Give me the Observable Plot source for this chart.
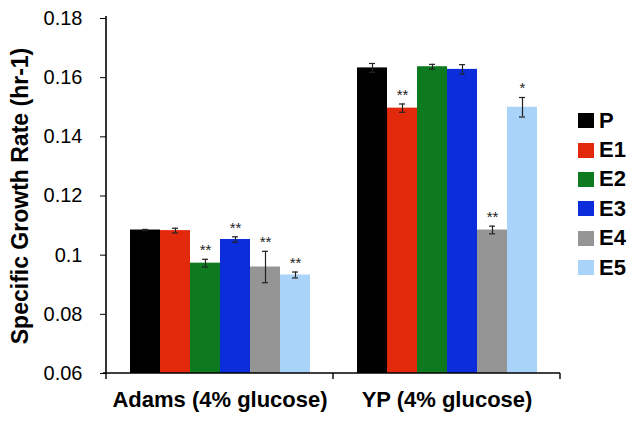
<!DOCTYPE html>
<html><head><meta charset="utf-8">
<script src="https://cdn.jsdelivr.net/npm/d3@7"></script>
<script src="https://cdn.jsdelivr.net/npm/@observablehq/plot@0.6"></script>
<style>
body{margin:0;background:#fff;font-family:"Liberation Sans",Arial,sans-serif;}
#wrap{position:relative;width:630px;height:421px;}
#legend{position:absolute;left:578px;top:106px;}
.item{display:flex;align-items:center;height:29.4px;font-weight:bold;font-size:22px;color:#000;}
.sw{width:16px;height:15px;margin-right:5px;}
</style></head><body><div id="wrap"></div>
<script>
const groups = ["Adams (4% glucose)", "YP (4% glucose)"];
const series = ["P", "E1", "E2", "E3", "E4", "E5"];
const colors = ["#000000", "#e3290c", "#0e7a1f", "#0b2ddb", "#959595", "#a9d3f9"];
const adamsValues = [0.1085, 0.1083, 0.0973, 0.1053, 0.0960, 0.0933];
const adamsErrors = [0.0002, 0.0008, 0.0013, 0.0009, 0.0053, 0.0010];
const ypValues = [0.1633, 0.1497, 0.1637, 0.1628, 0.1085, 0.1500];
const ypErrors = [0.0015, 0.0014, 0.0008, 0.0016, 0.0013, 0.0033];
const adamsStars = ["", "", "**", "**", "**", "**"];
const ypStars = ["", "**", "", "", "**", "*"];
const yTicks = [0.06, 0.08, 0.1, 0.12, 0.14, 0.16, 0.18];
const yDomain = [0.06, 0.18];
const yLabel = "Specific Growth Rate (hr-1)";

const values = [adamsValues, ypValues];
const errors = [adamsErrors, ypErrors];
const stars = [adamsStars, ypStars];
const data = [];
groups.forEach((g, gi) => series.forEach((s, i) => data.push({
  group: g, series: s, value: values[gi][i], err: errors[gi][i], star: stars[gi][i]
})));

const plot = Plot.plot({
  width: 630, height: 421,
  marginLeft: 106, marginRight: 70, marginTop: 18, marginBottom: 48,
  fx: {domain: groups, paddingInner: 0, paddingOuter: 0, label: null, axis: null},
  x: {domain: series, paddingInner: 0, paddingOuter: 0.74, axis: null},
  y: {domain: yDomain, label: null},
  color: {domain: series, range: colors},
  style: {fontFamily: "'Liberation Sans', Arial, sans-serif", fontSize: "20px", color: "#000", background: "#fff"},
  marks: [
    Plot.barY(data, {fx: "group", x: "series", y1: yDomain[0], y2: "value", fill: "series"}),
    Plot.ruleX(data, {fx: "group", x: "series", y1: d => d.value - d.err, y2: d => d.value + d.err, stroke: "#222", strokeWidth: 1.2}),
    Plot.tickY(data, {fx: "group", x: "series", y: d => d.value - d.err, stroke: "#222", strokeWidth: 1.2, insetLeft: 12, insetRight: 12}),
    Plot.tickY(data, {fx: "group", x: "series", y: d => d.value + d.err, stroke: "#222", strokeWidth: 1.2, insetLeft: 12, insetRight: 12}),
    Plot.text(data, {fx: "group", x: "series", y: d => d.value + d.err, text: "star", dy: -4, lineAnchor: "bottom", fontSize: 15, fill: "#222"}),
    Plot.axisY({ticks: yTicks, tickFormat: d => String(+d.toFixed(2)), tickSize: 6, tickPadding: 18, fontSize: 20}),
    Plot.axisFx({anchor: "bottom", tickSize: 0, tickPadding: 18, fontSize: 22, fontWeight: "bold", label: null}),
    Plot.text([groups[0]], {fx: d => d, frameAnchor: "left", textAnchor: "middle", dx: -86, rotate: -90, text: () => yLabel, fontSize: 23, fontWeight: "bold"})
  ]
});

document.getElementById("wrap").appendChild(plot);

// axis lines and group boundary ticks from the plot's own scales
const fx = plot.scale("fx"), y = plot.scale("y");
const svg = d3.select(plot);
const y0 = y.apply(yDomain[0]), yTop = y.apply(yDomain[1]);
const left = fx.apply(groups[0]);
const right = fx.apply(groups[groups.length - 1]) + fx.bandwidth;
svg.append("line").attr("x1", left).attr("x2", left).attr("y1", yTop - 2).attr("y2", y0).attr("stroke", "#000").attr("stroke-width", 1.6);
svg.append("line").attr("x1", left - 3).attr("x2", right).attr("y1", y0).attr("y2", y0).attr("stroke", "#000").attr("stroke-width", 1.6);
const bounds = groups.map(g => fx.apply(g)).concat([right]);
bounds.forEach(b => svg.append("line").attr("x1", b).attr("x2", b).attr("y1", y0).attr("y2", y0 + 6).attr("stroke", "#000").attr("stroke-width", 1.4));

// legend from the color scale
const color = plot.scale("color");
const legend = d3.select("#wrap").append("div").attr("id", "legend");
series.forEach(s => {
  const it = legend.append("div").attr("class", "item");
  it.append("div").attr("class", "sw").style("background", color.apply(s));
  it.append("span").text(s);
});
</script></body></html>
